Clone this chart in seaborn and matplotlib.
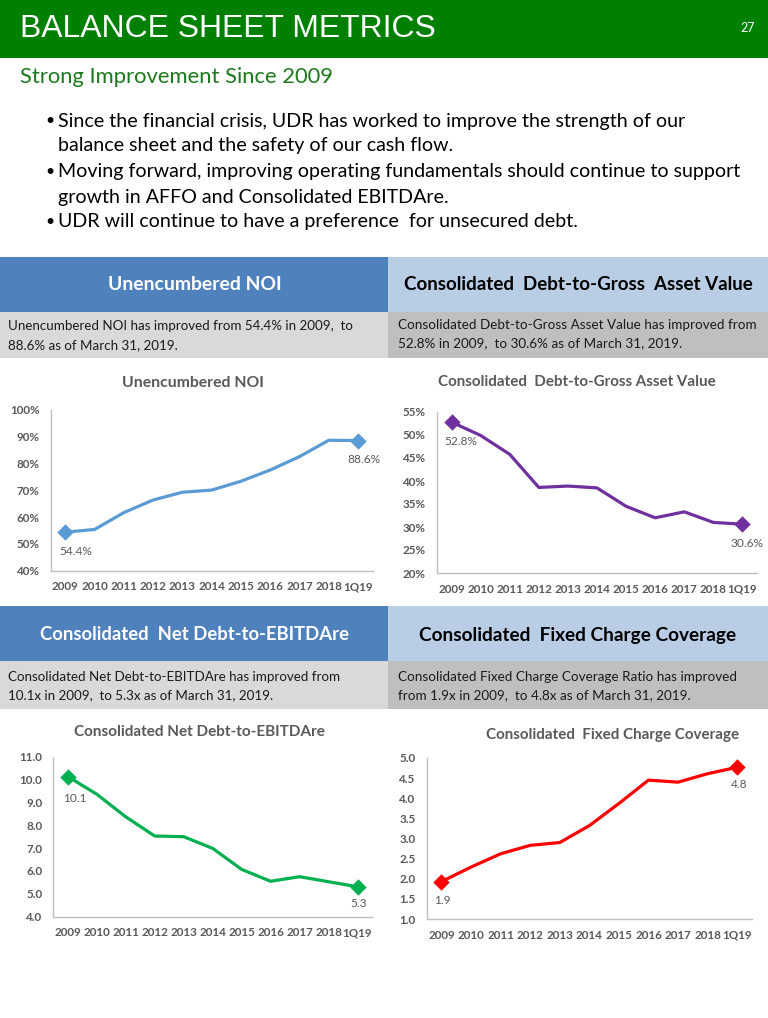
import matplotlib
matplotlib.use("Agg")
import numpy as np
import pandas as pd
import seaborn as sns
import matplotlib.pyplot as plt
from matplotlib.patches import Rectangle
from matplotlib.ticker import FuncFormatter

# ---------------- data ----------------
periods = ["2009", "2010", "2011", "2012", "2013", "2014", "2015",
           "2016", "2017", "2018", "1Q19"]
noi = [54.4, 55.4, 61.7, 66.4, 69.3, 70.1, 73.4, 77.6, 82.6, 88.7, 88.6]
debt_gav = [52.8, 49.9, 45.8, 38.6, 38.9, 38.5, 34.5, 32.0, 33.3, 31.0, 30.6]
net_debt = [10.13, 9.36, 8.37, 7.53, 7.50, 6.99, 6.07, 5.55, 5.75, 5.53, 5.31]
fcc = [1.93, 2.29, 2.62, 2.83, 2.90, 3.32, 3.87, 4.45, 4.40, 4.61, 4.77]

page_title = "BALANCE SHEET METRICS"
page_no = "27"
subtitle = "Strong Improvement Since 2009"
bullets = [
    ["Since the financial crisis, UDR has worked to improve the strength of our",
     "balance sheet and the safety of our cash flow."],
    ["Moving forward, improving operating fundamentals should continue to support",
     "growth in AFFO and Consolidated EBITDAre."],
    ["UDR will continue to have a preference  for unsecured debt."],
]
headers = ["Unencumbered NOI", "Consolidated  Debt-to-Gross  Asset Value",
           "Consolidated  Net Debt-to-EBITDAre", "Consolidated  Fixed Charge Coverage"]
descriptions = [
    ["Unencumbered NOI has improved from 54.4% in 2009,  to",
     "88.6% as of March 31, 2019."],
    ["Consolidated Debt-to-Gross Asset Value has improved from",
     "52.8% in 2009,  to 30.6% as of March 31, 2019."],
    ["Consolidated Net Debt-to-EBITDAre has improved from",
     "10.1x in 2009,  to 5.3x as of March 31, 2019."],
    ["Consolidated Fixed Charge Coverage Ratio has improved",
     "from 1.9x in 2009,  to 4.8x as of March 31, 2019."],
]
chart_titles = ["Unencumbered NOI", "Consolidated  Debt-to-Gross Asset Value",
                "Consolidated Net Debt-to-EBITDAre", "Consolidated  Fixed Charge Coverage"]

# ---------------- style ----------------
sns.set_theme(style="white")
plt.rcParams["font.family"] = ["Lato", "DejaVu Sans"]

W, H = 768, 1018
fig = plt.figure(figsize=(W / 100, H / 100), dpi=100)
fig.patch.set_facecolor("white")
renderer = fig.canvas.get_renderer()


def fx(x):
    return x / W


def fy(y):
    return 1 - y / H


def rect(x0, y0, x1, y1, color):
    fig.patches.append(Rectangle((fx(x0), fy(y1)), fx(x1) - fx(x0), (y1 - y0) / H,
                                 transform=fig.transFigure, facecolor=color,
                                 edgecolor="none", zorder=0))


def fit_size(s, width, **kw):
    t = fig.text(0, 0, s, fontsize=10, **kw)
    bb = t.get_window_extent(renderer)
    t.remove()
    return 10 * width / bb.width


# header bar
rect(0, 0, W, 58, "#008000")
fs = fit_size(page_title, 415, family=["Liberation Sans"])
fig.text(fx(20), fy(29), page_title, color="white", fontsize=fs,
         family=["Liberation Sans"], va="center", ha="left")
fig.text(fx(748), fy(28), page_no, color="white", fontsize=9, va="center", ha="center")

fs = fit_size(subtitle, 313)
fig.text(fx(20), fy(77), subtitle, color="#1C7A1C", fontsize=fs, va="center", ha="left")

# bullets
fs = fit_size(bullets[1][0], 685)
line_y = [121, 146, 172, 197, 222]
k = 0
for b in bullets:
    for j, line in enumerate(b):
        if j == 0:
            fig.text(fx(45), fy(line_y[k]), "\u2022", fontsize=fs * 0.8, color="black",
                     va="center", ha="left")
        fig.text(fx(58), fy(line_y[k]), line, fontsize=fs, color="black",
                 va="center", ha="left")
        k += 1

# header / description boxes
box_rows = [(257, 312, 358), (606, 661, 709)]
for r, (y0, y1, y2) in enumerate(box_rows):
    rect(0, y0, 388, y1, "#4F81BD")
    rect(388, y0, W, y1, "#B9CDE5")
    rect(0, y1, 388, y2, "#D9D9D9")
    rect(388, y1, W, y2, "#BFBFBF")

hdr_widths = [175, 349, 309, 319]
hdr_centers = [(195, 285), (578, 285), (194, 635), (578, 635)]
hdr_colors = ["white", "black", "white", "black"]
for i in range(4):
    fs = fit_size(headers[i], hdr_widths[i], fontweight="bold")
    fig.text(fx(hdr_centers[i][0]), fy(hdr_centers[i][1]), headers[i], fontsize=fs,
             fontweight="bold", color=hdr_colors[i], ha="center", va="center")

desc_pos = [(8, 326, 345), (398, 325, 343), (8, 677, 695), (398, 677, 695)]
desc_widths = [344, 358, 333, 339]
for i in range(4):
    fs = fit_size(descriptions[i][0], desc_widths[i])
    x, ya, yb = desc_pos[i]
    fig.text(fx(x), fy(ya), descriptions[i][0], fontsize=fs, color="#1a1a1a",
             ha="left", va="center")
    fig.text(fx(x), fy(yb), descriptions[i][1], fontsize=fs, color="#1a1a1a",
             ha="left", va="center")

# ---------------- charts ----------------
charts = [
    dict(vals=noi, color="#5B9BD5", rect=(50.7, 410, 372.7, 570.7), ylim=(40, 100),
         step=10, fmt=lambda v, p: f"{v:.0f}%", lab=lambda v: f"{v:.1f}%",
         title_c=(193, 383), title_w=142, off=[(10, -19), (6, -19)]),
    dict(vals=debt_gav, color="#7030A0", rect=(437, 412, 757, 573), ylim=(20, 55),
         step=5, fmt=lambda v, p: f"{v:.0f}%", lab=lambda v: f"{v:.1f}%",
         title_c=(577, 382), title_w=278, off=[(9, -19), (5, -19)]),
    dict(vals=net_debt, color="#00B050", rect=(53.3, 756.7, 372, 916.7), ylim=(4, 11),
         step=1, fmt=lambda v, p: f"{v:.1f}", lab=lambda v: f"{v:.1f}",
         title_c=(199, 732), title_w=251, off=[(7, -22), (1, -17)]),
    dict(vals=fcc, color="#FF0000", rect=(426.7, 758, 752, 919), ylim=(1, 5),
         step=0.5, fmt=lambda v, p: f"{v:.1f}", lab=lambda v: f"{v:.1f}",
         title_c=(613, 735), title_w=253, off=[(1, -19), (2, -17)]),
]

grey = "#595959"
axes = []
for i, c in enumerate(charts):
    x0, y0, x1, y1 = c["rect"]
    ax = fig.add_axes([fx(x0), fy(y1), (x1 - x0) / W, (y1 - y0) / H])
    axes.append(ax)
    ax.set_facecolor("none")
    df = pd.DataFrame({"period": periods, "value": c["vals"]})
    sns.lineplot(data=df, x="period", y="value", ax=ax, color=c["color"],
                 linewidth=2.3, sort=False, zorder=3)
    ends = df.iloc[[0, len(df) - 1]]
    sns.scatterplot(data=ends, x="period", y="value", ax=ax, color=c["color"],
                    marker="D", s=70, edgecolor=c["color"], linewidth=0, zorder=4)
    ax.set_xlim(-0.5, len(periods) - 0.5)
    ax.set_ylim(*c["ylim"])
    ax.set_yticks(np.arange(c["ylim"][0], c["ylim"][1] + c["step"] / 2, c["step"]))
    ax.yaxis.set_major_formatter(FuncFormatter(c["fmt"]))
    ax.set_xticks(range(len(periods)))
    ax.set_xticklabels(periods, fontweight="bold", va="baseline")
    ax.set_xlabel("")
    ax.set_ylabel("")
    for side in ["top", "right"]:
        ax.spines[side].set_visible(False)
    for side in ["left", "bottom"]:
        ax.spines[side].set_color("#BFBFBF")
        ax.spines[side].set_linewidth(1.0)
    ax.tick_params(axis="y", length=0, pad=8, labelsize=8.4, labelcolor=grey)
    ax.tick_params(axis="x", length=0, pad=14.2, labelsize=8.4, labelcolor=grey)
    for t in ax.get_yticklabels():
        t.set_fontweight("bold")
    for (idx, off) in zip([0, len(periods) - 1], c["off"]):
        v = c["vals"][idx]
        ax.annotate(c["lab"](v), xy=(idx, v), xytext=off, textcoords="offset pixels",
                    ha="center", va="center", fontsize=8.6, color=grey, zorder=5)
    fs = fit_size(chart_titles[i], c["title_w"], fontweight="bold")
    fig.text(fx(c["title_c"][0]), fy(c["title_c"][1]), chart_titles[i], fontsize=fs,
             fontweight="bold", color=grey, ha="center", va="center")

fig.canvas.draw()
for ax in axes:
    for t in ax.get_xticklabels():
        t.set_verticalalignment("baseline")
        t.set_fontweight("bold")

fig.savefig("out.png", dpi=100)
